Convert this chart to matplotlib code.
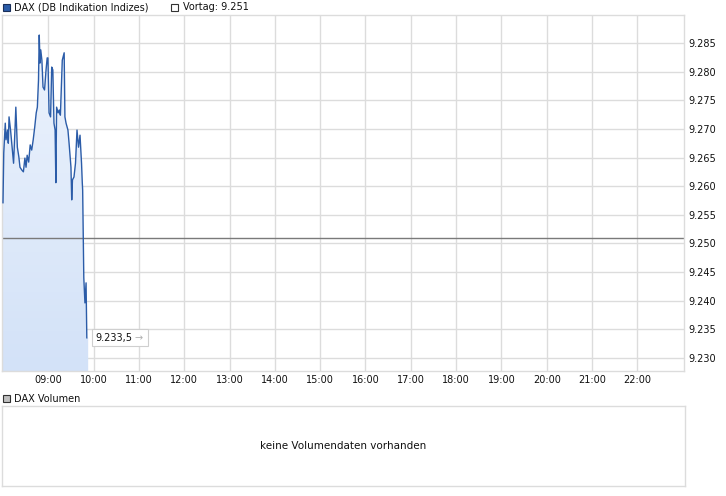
import matplotlib
matplotlib.use("Agg")
import matplotlib.pyplot as plt
from matplotlib.patches import Rectangle, Polygon
import numpy as np

# ---- data ----
minutes_after_8 = [0, 1, 3, 4, 6, 7, 8, 10, 14, 16, 17, 19, 21, 22.5, 25, 27, 29, 30.5, 32, 34,
                   36, 38, 40, 42, 44, 45.5, 47, 48, 49, 50, 51.5, 53, 55, 57, 58.5, 59.5, 61, 63,
                   64.5, 66, 67.5, 69, 70, 71, 73, 74.5, 76, 78.5, 81, 82, 83.5, 86, 87.5, 90, 91,
                   92, 94, 96, 98, 100, 102, 104, 105, 105.5, 106.3, 107, 108.5, 110, 111]
dax_values = [9.2571, 9.2658, 9.2710, 9.2681, 9.2698, 9.2675, 9.2721, 9.2698, 9.2640, 9.2703,
              9.2738, 9.2668, 9.2651, 9.2633, 9.2628, 9.2625, 9.2649, 9.2633, 9.2654, 9.2642,
              9.2672, 9.2663, 9.2681, 9.2703, 9.2728, 9.2738, 9.2785, 9.2864, 9.2815, 9.2838,
              9.2820, 9.2773, 9.2768, 9.2803, 9.2824, 9.2824, 9.2728, 9.2721, 9.2808, 9.2803,
              9.2710, 9.2698, 9.2606, 9.2738, 9.2728, 9.2733, 9.2724, 9.2820, 9.2833, 9.2721,
              9.2710, 9.2698, 9.2675, 9.2633, 9.2576, 9.2611, 9.2616, 9.2640, 9.2698, 9.2668,
              9.2689, 9.2640, 9.2606, 9.2593, 9.2511, 9.2440, 9.2396, 9.2431, 9.2335]
vortag = 9.251
last_label = "9.233,5"
y_ticks = [9.230, 9.235, 9.240, 9.245, 9.250, 9.255, 9.260, 9.265, 9.270, 9.275, 9.280, 9.285]
y_tick_labels = ["9.230", "9.235", "9.240", "9.245", "9.250", "9.255", "9.260", "9.265",
                 "9.270", "9.275", "9.280", "9.285"]
x_hours = list(range(9, 23))
x_tick_labels = ["%02d:00" % h for h in x_hours]

W, H = 726, 496
fig = plt.figure(figsize=(W / 100, H / 100), dpi=100)
fig.patch.set_facecolor("white")

def fax(x0, y0, x1, y1):
    return [x0 / W, 1 - y1 / H, (x1 - x0) / W, (y1 - y0) / H]

grid_c = "#dcdcdc"
line_c = "#2b5ca8"

ax = fig.add_axes(fax(2, 15, 684, 371))
times = 8 + np.array(minutes_after_8) / 60.0
vals = np.array(dax_values)
XL = (7.978, 23.03)
YL = (9.2277, 9.2899)
ax.set_xlim(*XL)
ax.set_ylim(*YL)

for h in x_hours:
    ax.axvline(h, color=grid_c, lw=1, zorder=0)
for t in y_ticks:
    ax.axhline(t, color=grid_c, lw=1, zorder=0)

# gradient fill under the line
ylo, yhi = YL
verts = [(times[0], ylo)] + list(zip(times, vals)) + [(times[-1] + 0.03, vals[-1]), (times[-1] + 0.03, ylo)]
poly = Polygon(verts, closed=True, facecolor="none", edgecolor="none")
ax.add_patch(poly)
grad = np.linspace(0, 1, 256).reshape(-1, 1)
c_top = np.array([0xee, 0xf4, 0xfd]) / 255
c_bot = np.array([0xd3, 0xe2, 0xf8]) / 255
img = c_top + (c_bot - c_top) * grad[..., None] * np.ones((1, 1, 3))
im = ax.imshow(img, extent=[times[0], times[-1] + 0.03, ylo, yhi], origin="upper",
               aspect="auto", zorder=1)
im.set_clip_path(poly)
ax.set_xlim(*XL)
ax.set_ylim(*YL)

ax.plot(times, vals, color=line_c, lw=1.0, zorder=3)
ax.axhline(vortag, color="#7a7a7a", lw=1.0, zorder=2)

# last value label box (positioned in pixels relative to the last point)
px, py = ax.transData.transform((times[-1], vals[-1]))
bx0, bw, bh = px + 5, 56, 17
fig.add_artist(Rectangle((bx0 / W, (py - bh / 2) / H), bw / W, bh / H, transform=fig.transFigure,
                         fc="white", ec="#cfcfcf", lw=0.8, zorder=5))
fig.text((bx0 + 4) / W, py / H, last_label, fontsize=7, color="#111111", ha="left", va="center", zorder=6)
fig.text((bx0 + 43) / W, py / H, "\u2192", fontsize=7, color="#b0b0b0", ha="left", va="center", zorder=6)

ax.yaxis.tick_right()
ax.set_yticks(y_ticks)
ax.set_yticklabels(y_tick_labels, fontsize=7, color="#111111")
ax.set_xticks(x_hours)
ax.set_xticklabels(x_tick_labels, fontsize=7, color="#111111")
ax.tick_params(length=0, pad=3)
ax.tick_params(axis="y", pad=3)
for s in ax.spines.values():
    s.set_color(grid_c)
    s.set_linewidth(1)

# legend
fig.add_artist(Rectangle((3 / W, 1 - 11 / H), 7 / W, 7 / H, transform=fig.transFigure,
                         fc="#2b5ca8", ec="#1a2f5a", lw=0.8))
fig.text(14 / W, 1 - 7.5 / H, "DAX (DB Indikation Indizes)", fontsize=7, va="center", ha="left", color="#111111")
fig.add_artist(Rectangle((171 / W, 1 - 11 / H), 7 / W, 7 / H, transform=fig.transFigure,
                         fc="white", ec="#333333", lw=0.8))
fig.text(183 / W, 1 - 7.5 / H, "Vortag: 9.251", fontsize=7, va="center", ha="left", color="#111111")

# volume panel
fig.add_artist(Rectangle((3 / W, 1 - 402 / H), 7 / W, 7 / H, transform=fig.transFigure,
                         fc="#c0c0c0", ec="#333333", lw=0.8))
fig.text(14 / W, 1 - 398.5 / H, "DAX Volumen", fontsize=7, va="center", ha="left", color="#111111")
ax2 = fig.add_axes(fax(2, 406, 685, 486))
ax2.set_xticks([])
ax2.set_yticks([])
for s in ax2.spines.values():
    s.set_color(grid_c)
    s.set_linewidth(1)
ax2.text(0.5, 0.5, "keine Volumendaten vorhanden", transform=ax2.transAxes, ha="center",
         va="center", fontsize=7.5, color="#111111")

fig.savefig("out.png", dpi=100)
